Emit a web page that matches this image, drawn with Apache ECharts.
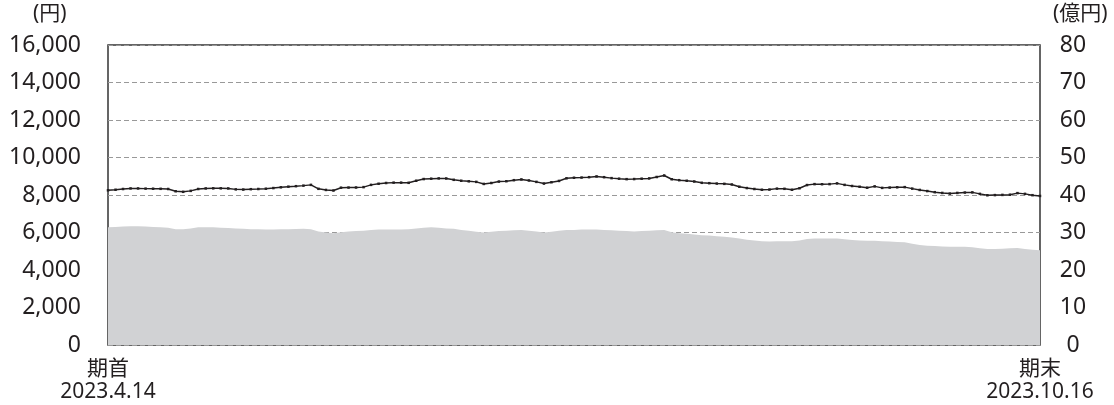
<!DOCTYPE html>
<html><head><meta charset="utf-8">
<script src="https://cdn.jsdelivr.net/npm/echarts@6/dist/echarts.min.js"></script>
<style>html,body{margin:0;padding:0;background:#fff}#c{width:1114px;height:405px}</style>
</head><body><div id="c"></div>
<script>
// 基準価額 (円)
const navValues = [8250,8280,8320,8350,8350,8340,8335,8330,8320,8200,8170,8220,8320,8350,8355,8355,8350,8300,8290,8310,
8320,8335,8370,8410,8445,8470,8500,8540,8330,8270,8240,8390,8395,8400,8420,8540,8600,8640,8660,8660,
8650,8760,8850,8870,8885,8880,8810,8760,8730,8700,8590,8640,8715,8735,8790,8830,8775,8700,8610,8680,
8750,8890,8920,8930,8950,8990,8950,8900,8870,8845,8850,8870,8885,8960,9040,8840,8790,8760,8720,8650,
8630,8610,8595,8560,8440,8370,8320,8280,8290,8340,8330,8280,8360,8530,8580,8575,8580,8620,8540,8480,
8440,8390,8460,8380,8395,8410,8420,8340,8270,8210,8150,8110,8075,8110,8130,8140,8060,7985,7995,8005,
8015,8100,8060,7990,7950];
// 純資産総額 (億円)
const assetValues = [31.4,31.5,31.6,31.7,31.7,31.6,31.5,31.4,31.3,30.9,30.9,31.1,31.4,31.4,31.4,31.3,31.2,31.1,31.0,30.9,
30.85,30.8,30.8,30.85,30.9,30.95,31.0,30.9,30.3,30.0,29.8,30.1,30.3,30.4,30.5,30.7,30.8,30.8,30.8,30.8,
30.9,31.1,31.3,31.4,31.3,31.1,31.0,30.7,30.5,30.2,30.0,30.2,30.4,30.5,30.6,30.7,30.5,30.3,30.0,30.2,
30.5,30.7,30.7,30.8,30.8,30.8,30.7,30.6,30.5,30.4,30.3,30.4,30.5,30.6,30.7,30.1,29.8,29.7,29.5,29.3,
29.2,29.0,28.9,28.7,28.4,28.1,27.9,27.7,27.6,27.7,27.7,27.7,27.9,28.3,28.4,28.4,28.4,28.4,28.2,28.0,
27.9,27.8,27.8,27.7,27.6,27.5,27.4,27.0,26.7,26.5,26.4,26.3,26.2,26.2,26.2,26.1,25.8,25.6,25.6,25.7,
25.8,25.9,25.6,25.4,25.3];
const startLabel = '期首\n2023.4.14';
const endLabel = '期末\n2023.10.16';
const leftUnit = '(円)';
const rightUnit = '(億円)';
const categories = navValues.map((v, i) => String(i));

const FONT = '"Noto Sans", "Noto Sans CJK JP", sans-serif';
const TXT = '#231f20';
const chart = echarts.init(document.getElementById('c'), null, {renderer: 'canvas'});
chart.setOption({
  animation: false,
  grid: {left: 108, right: 74, top: 45, bottom: 60, show: true, borderColor: '#333', borderWidth: 1.5, backgroundColor: 'transparent'},
  xAxis: {
    type: 'category', data: categories, boundaryGap: false,
    axisLine: {show: false}, axisTick: {show: false}, splitLine: {show: false},
    axisLabel: {
      interval: 0, margin: 13, color: TXT, fontFamily: FONT, fontSize: 21, lineHeight: 23,
      formatter: (v, i) => i === 0 ? startLabel : (i === categories.length - 1 ? endLabel : '')
    }
  },
  yAxis: [
    {type: 'value', min: 0, max: 16000, interval: 2000,
     axisLine: {show: false}, axisTick: {show: false},
     axisLabel: {margin: 27, color: TXT, fontFamily: FONT, fontSize: 23,
       formatter: v => v.toLocaleString('en-US')},
     splitLine: {show: true, lineStyle: {color: '#999', type: [5, 3], width: 1}}},
    {type: 'value', min: 0, max: 80, interval: 10, position: 'right',
     axisLine: {show: false}, axisTick: {show: false},
     axisLabel: {margin: 33, align: 'center', color: TXT, fontFamily: FONT, fontSize: 23},
     splitLine: {show: false}}
  ],
  graphic: [
    {type: 'text', left: 33, top: 4, style: {text: leftUnit, fill: TXT, font: '21px ' + FONT}},
    {type: 'text', left: 1053, top: 4, style: {text: rightUnit, fill: TXT, font: '21px ' + FONT}}
  ],
  series: [
    {type: 'line', yAxisIndex: 1, data: assetValues, symbol: 'none', lineStyle: {width: 0},
     areaStyle: {color: '#d1d2d4', opacity: 1}, z: 1},
    {type: 'line', yAxisIndex: 0, data: navValues, symbol: 'rect', symbolSize: 2.5, showAllSymbol: true,
     lineStyle: {color: '#231f20', width: 1.5}, itemStyle: {color: '#231f20'}, z: 3}
  ]
});
</script></body></html>
